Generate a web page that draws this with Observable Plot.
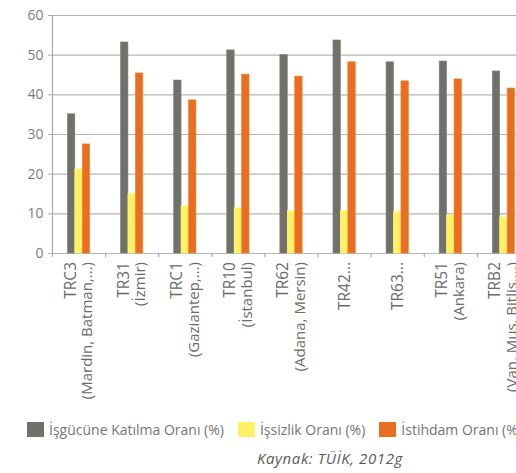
<!DOCTYPE html>
<html>
<head>
<meta charset="utf-8">
<script src="https://cdn.jsdelivr.net/npm/d3@7"></script>
<script src="https://cdn.jsdelivr.net/npm/@observablehq/plot@0.6"></script>
<style>
  html, body { margin: 0; padding: 0; background: #fff; }
  body { width: 516px; height: 473px; overflow: hidden; position: relative; font-family: "Open Sans", sans-serif; }
  #title { position: absolute; left: 28px; top: -18px; font-size: 16px; line-height: 16px; font-weight: bold; color: #f28c28; white-space: nowrap; }
  #chart { position: absolute; left: 0; top: 0; width: 540px; }
  #chart svg { max-width: none !important; }
  #legend { position: absolute; left: 27px; top: 420px; display: flex; align-items: center; white-space: nowrap; font-size: 14px; color: #757575; }
  #legend .item { display: flex; align-items: center; margin-right: 14px; }
  #legend .sw { width: 17px; height: 15px; margin-right: 5px; }
  #caption { position: absolute; left: 257px; top: 448px; font-size: 15px; letter-spacing: 0.6px; font-style: italic; color: #5a5a5a; white-space: nowrap; }
</style>
</head>
<body>
<div id="title">Bölgeler (%), 2012</div>
<div id="chart"></div>
<div id="legend"></div>
<div id="caption">Kaynak: TÜİK, 2012g</div>
<script>
const codes = ["TRC3", "TR31", "TRC1", "TR10", "TR62", "TR42...", "TR63...", "TR51", "TRB2"];
const subs = ["(Mardin, Batman,...)", "(İzmir)", "(Gaziantep,...)", "(İstanbul)", "(Adana, Mersin)", "", "", "(Ankara)", "(Van, Muş, Bitlis,...)"];
const series = ["İşgücüne Katılma Oranı (%)", "İşsizlik Oranı (%)", "İstihdam Oranı (%)"];
const katilma = [35.1, 53.2, 43.6, 51.2, 50.0, 53.7, 48.2, 48.4, 45.9];
const issizlik = [21.2, 15.0, 11.9, 11.4, 10.7, 10.7, 10.4, 9.6, 9.1];
const istihdam = [27.5, 45.4, 38.6, 45.1, 44.6, 48.2, 43.4, 43.9, 41.6];
const colors = ["#71716c", "#fff066", "#e86f22"];
const yTicks = [0, 10, 20, 30, 40, 50, 60];

const values = [katilma, issizlik, istihdam];
const rows = [];
codes.forEach((c, i) => series.forEach((s, k) => rows.push({i, k, code: c, series: s, value: values[k][i]})));
const cats = codes.map((c, i) => ({i, code: c, sub: subs[i]}));
const bounds = d3.range(codes.length + 1);

const barW = 0.14;
const off = k => 0.5 - 1.5 * barW + k * barW;
const lineOff = 0.16;

const chart = Plot.plot({
  width: 540,
  height: 410,
  marginLeft: 52,
  marginRight: 10,
  marginTop: 15,
  marginBottom: 157,
  style: {fontFamily: "Open Sans, sans-serif", background: "transparent", maxWidth: "none"},
  x: {domain: [0, codes.length], axis: null, label: null},
  y: {domain: [0, 60], axis: null, label: null},
  color: {domain: series, range: colors},
  marks: [
    Plot.ruleY(yTicks, {stroke: "#b5b5b5", strokeWidth: 1.2}),
    Plot.rectY(rows, {
      x1: d => d.i + off(d.k),
      x2: d => d.i + off(d.k) + barW,
      y1: 0,
      y2: "value",
      fill: "series",
      stroke: d => d3.color(colors[d.k]).brighter(0.35).formatHex(),
      strokeWidth: 0.6
    }),
    Plot.ruleX(bounds, {x: d => d, y1: 0, y2: -1, stroke: "#a8a8a8", strokeWidth: 1.2}),
    Plot.ruleX([0], {x: d => d, y1: 0, y2: 60, stroke: "#a8a8a8", strokeWidth: 1.2}),
    Plot.axisY({ticks: yTicks, label: null, tickSize: 4, tickPadding: 5, fontSize: 14, stroke: "#a8a8a8", fill: "#7c7c7c", tickFormat: d => d}),
    Plot.text(cats.filter(d => d.sub), {
      x: d => d.i + 0.5 - lineOff, y: 0, text: "code",
      rotate: -90, textAnchor: "end", lineAnchor: "middle", dy: 8.5,
      fontSize: 15.5, fill: "#6b6b6b"
    }),
    Plot.text(cats.filter(d => d.sub), {
      x: d => d.i + 0.5 + lineOff, y: 0, text: "sub",
      rotate: -90, textAnchor: "end", lineAnchor: "middle", dy: 8.5,
      fontSize: 15, fill: "#6b6b6b"
    }),
    Plot.text(cats.filter(d => !d.sub), {
      x: d => d.i + 0.5, y: 0, text: "code",
      rotate: -90, textAnchor: "end", lineAnchor: "middle", dy: 8.5,
      fontSize: 15.5, fill: "#6b6b6b"
    })
  ]
});
document.getElementById("chart").appendChild(chart);

const legend = document.getElementById("legend");
series.forEach((s, k) => {
  const item = document.createElement("div");
  item.className = "item";
  const sw = document.createElement("div");
  sw.className = "sw";
  sw.style.background = colors[k];
  const label = document.createElement("span");
  label.textContent = s;
  item.appendChild(sw);
  item.appendChild(label);
  legend.appendChild(item);
});
</script>
</body>
</html>
